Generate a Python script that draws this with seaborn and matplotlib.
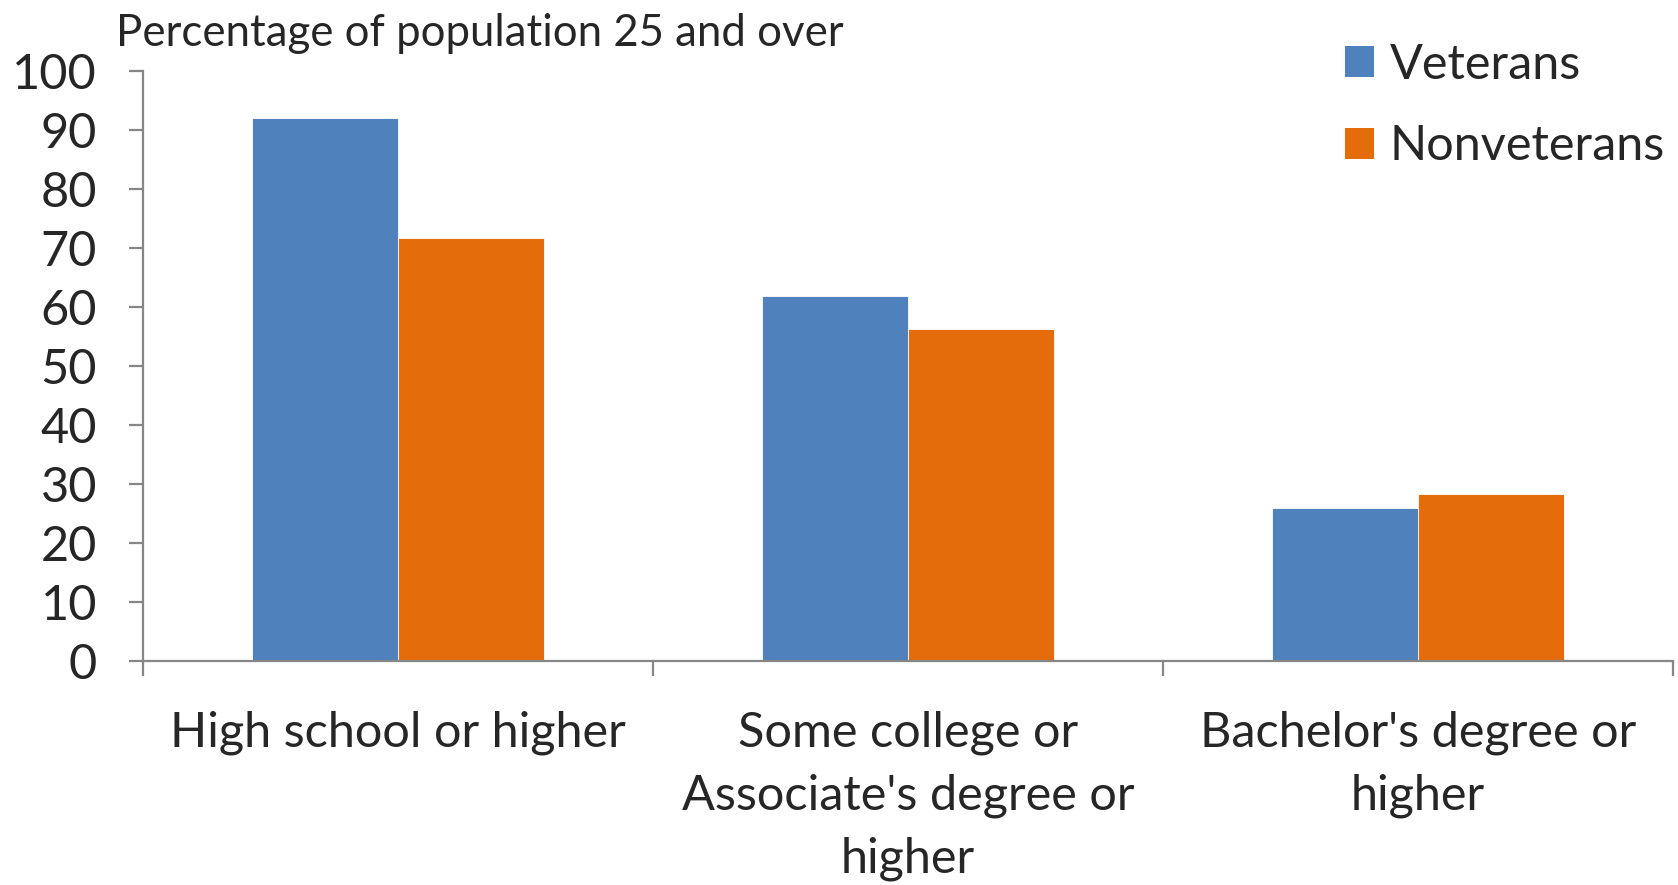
import matplotlib
matplotlib.use('Agg')
import matplotlib.pyplot as plt
import seaborn as sns
import pandas as pd
from matplotlib.patches import Patch

# data
categories = ['High school or higher',
              "Some college or\nAssociate's degree or\nhigher",
              "Bachelor's degree or\nhigher"]
veterans = [92.0, 61.9, 25.9]
nonveterans = [71.6, 56.3, 28.3]
groups = ['Veterans', 'Nonveterans']
colors = ['#4F81BD', '#E46C0A']
y_ticks = [0, 10, 20, 30, 40, 50, 60, 70, 80, 90, 100]

df = pd.DataFrame({
    'category': categories * 2,
    'group': [groups[0]] * 3 + [groups[1]] * 3,
    'value': veterans + nonveterans,
})

sns.set_style('white')
plt.rcParams['font.family'] = ['Lato', 'DejaVu Sans']

fig = plt.figure(figsize=(16.78, 8.85), dpi=100)
ax = fig.add_axes([143 / 1678, 1 - 661.4 / 885, 1530 / 1678, (661.4 - 70.6) / 885])

sns.barplot(data=df, x='category', y='value', hue='group', palette=colors,
            width=0.572, saturation=1, edgecolor='#ffffff', linewidth=0.6,
            ax=ax, legend=False)

ax.set_xlim(-0.5, 2.5)
ax.set_ylim(0, 100)
ax.set_yticks(y_ticks)
ax.set_xlabel('')
ax.set_ylabel('')

for side in ['top', 'right']:
    ax.spines[side].set_visible(False)
for side in ['left', 'bottom']:
    ax.spines[side].set_color('#868686')
    ax.spines[side].set_linewidth(1.6)

ax.tick_params(axis='y', direction='out', length=10, width=1.6, color='#868686',
               labelsize=35, pad=23, left=True)
ax.tick_params(axis='x', which='major', length=0, labelsize=35, pad=35)
ax.set_xticks([-0.5, 0.5, 1.5, 2.5], minor=True)
ax.tick_params(axis='x', which='minor', direction='out', length=11, width=1.6,
               color='#868686', bottom=True)
for lbl in ax.get_xticklabels():
    lbl.set_horizontalalignment('center')
    lbl.set_multialignment('center')
    lbl.set_linespacing(1.52)

fig.text(116 / 1678, 1 - 46 / 885, 'Percentage of population 25 and over',
         fontsize=31.5, ha='left', va='baseline')

handles = [Patch(facecolor=c, edgecolor='none') for c in colors]
fig.legend(handles, groups, loc='upper left', bbox_to_anchor=(1345 / 1678, 1 - 43 / 885),
           frameon=False, fontsize=35, handlelength=0.6, handleheight=0.6,
           handletextpad=0.32, labelspacing=0.77, borderpad=0, borderaxespad=0)

fig.savefig('out.png', dpi=100)
